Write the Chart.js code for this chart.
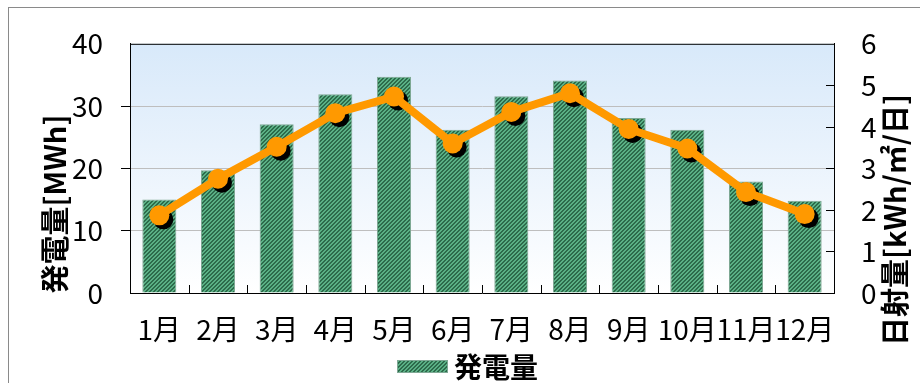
<!DOCTYPE html>
<html>
<head>
<meta charset="utf-8">
<script src="https://cdn.jsdelivr.net/npm/chart.js@4.4.1/dist/chart.umd.min.js"></script>
<style>
  body { margin: 0; background: #fff; }
  canvas { display: block; }
</style>
</head>
<body>
<canvas id="powerChart" width="920" height="383"></canvas>
<script>
// monthly generation (MWh) and daily irradiation (kWh/m2/day)
var months = ['1月', '2月', '3月', '4月', '5月', '6月', '7月', '8月', '9月', '10月', '11月', '12月'];
var generation = [15.0, 19.7, 27.1, 31.9, 34.7, 26.2, 31.6, 34.1, 28.1, 26.2, 17.9, 14.8];
var irradiation = [1.87, 2.75, 3.52, 4.33, 4.73, 3.6, 4.36, 4.81, 3.95, 3.48, 2.43, 1.9];
var leftTicks = [0, 10, 20, 30, 40];
var rightTicks = [0, 1, 2, 3, 4, 5, 6];

var jpFont = '"Noto Sans CJK JP", "Noto Sans", sans-serif';

// green diagonal hatch for the bars
function makeHatch() {
    var c = document.createElement('canvas');
    c.width = 4; c.height = 4;
    var g = c.getContext('2d');
    for (var x = 0; x < 4; x++) {
        for (var y = 0; y < 4; y++) {
            g.fillStyle = ((x + y) % 4 < 2) ? '#2D6B4B' : '#5AB085';
            g.fillRect(x, y, 1, 1);
        }
    }
    return g.createPattern(c, 'repeat');
}
var hatch = makeHatch();

// background gradient, frame and inward tick marks
var framePlugin = {
    id: 'frame',
    beforeDraw: function(chart) {
        var ctx = chart.ctx, a = chart.chartArea;
        ctx.save();
        ctx.fillStyle = '#fff';
        ctx.fillRect(0, 0, chart.width, chart.height);
        ctx.strokeStyle = '#8a8a8a';
        ctx.lineWidth = 1;
        ctx.strokeRect(8.5, 7.5, chart.width + 10, chart.height + 10);
        var grad = ctx.createLinearGradient(0, a.top, 0, a.bottom);
        grad.addColorStop(0, '#D8E9FA');
        grad.addColorStop(1, '#FFFFFF');
        ctx.fillStyle = grad;
        ctx.fillRect(a.left, a.top, a.right - a.left, a.bottom - a.top);
        ctx.restore();
    },
    afterDraw: function(chart) {
        var ctx = chart.ctx, a = chart.chartArea;
        ctx.save();
        ctx.strokeStyle = '#000';
        ctx.lineWidth = 1;
        ctx.beginPath();
        ctx.moveTo(a.left, a.top + 0.5);
        ctx.lineTo(a.right, a.top + 0.5);
        // category boundary ticks, pointing up
        var step = (a.right - a.left) / months.length;
        for (var i = 1; i < months.length; i++) {
            var x = Math.round(a.left + i * step) + 0.5;
            ctx.moveTo(x, a.bottom);
            ctx.lineTo(x, a.bottom - 8);
        }
        // right axis ticks, pointing in
        var y2 = chart.scales.y2;
        rightTicks.forEach(function(v) {
            if (v === 0 || v === 6) return;
            var y = Math.round(y2.getPixelForValue(v)) + 0.5;
            ctx.moveTo(a.right, y);
            ctx.lineTo(a.right - 8, y);
        });
        ctx.stroke();

        // axis titles, both reading bottom to top
        ctx.fillStyle = '#000';
        ctx.font = 'bold 29px ' + jpFont;
        ctx.textAlign = 'center';
        ctx.textBaseline = 'middle';
        ctx.save();
        ctx.translate(55, 204);
        ctx.rotate(-Math.PI / 2);
        ctx.fillText('発電量[MWh]', 0, 0);
        ctx.restore();
        ctx.save();
        ctx.translate(895, 220);
        ctx.rotate(-Math.PI / 2);
        ctx.fillText('日射量[kWh/㎡/日]', 0, 0);
        ctx.restore();

        // legend
        ctx.fillStyle = hatch;
        ctx.fillRect(397, 360, 51, 13);
        ctx.strokeStyle = '#7FA995';
        ctx.strokeRect(397.5, 360.5, 50, 12);
        ctx.fillStyle = '#000';
        ctx.font = 'bold 28px ' + jpFont;
        ctx.textAlign = 'left';
        ctx.fillText('発電量', 454, 367);
        ctx.restore();
    },
    // black shadow discs under the irradiation markers
    beforeDatasetDraw: function(chart, args) {
        if (args.index !== 1) return;
        var ctx = chart.ctx;
        ctx.save();
        ctx.fillStyle = '#000';
        args.meta.data.forEach(function(pt) {
            ctx.beginPath();
            ctx.arc(pt.x + 4, pt.y + 4, 10, 0, Math.PI * 2);
            ctx.fill();
        });
        ctx.restore();
    }
};

var ctx = document.getElementById('powerChart');
var myChart = new Chart(ctx, {
    type: 'bar',
    data: {
        labels: months,
        datasets: [{
            label: '発電量',
            data: generation,
            backgroundColor: hatch,
            borderColor: '#7FA995',
            borderWidth: 1,
            barPercentage: 0.58,
            categoryPercentage: 1,
            yAxisID: 'y',
            order: 1
        }, {
            label: '日射量',
            type: 'line',
            data: irradiation,
            borderColor: '#FF9900',
            backgroundColor: '#FF9900',
            borderWidth: 8,
            pointRadius: 10,
            pointBorderWidth: 0,
            pointBackgroundColor: '#FF9900',
            tension: 0,
            yAxisID: 'y2',
            order: 0
        }]
    },
    options: {
        responsive: false,
        animation: false,
        layout: { padding: { top: 40, left: 0, right: 0, bottom: 0 } },
        plugins: {
            legend: { display: false },
            tooltip: { enabled: false }
        },
        scales: {
            x: {
                grid: { display: false, drawTicks: false },
                border: { display: true, color: '#000', width: 1 },
                ticks: {
                    color: '#000',
                    font: { family: jpFont, size: 28 },
                    padding: 20,
                    autoSkip: false,
                    maxRotation: 0
                },
                afterFit: function(s) { s.height = 90; }
            },
            y: {
                position: 'left',
                min: 0,
                max: 40,
                grid: {
                    color: function(c) { return (c.tick && c.tick.value % 40 !== 0) ? '#BEBEBE' : 'rgba(0,0,0,0)'; },
                    tickColor: function(c) { return (c.tick && c.tick.value % 40 !== 0) ? '#000' : 'rgba(0,0,0,0)'; },
                    tickLength: 9,
                    drawTicks: true
                },
                border: { display: true, color: '#000', width: 1 },
                ticks: {
                    stepSize: 10,
                    color: '#000',
                    font: { family: jpFont, size: 28 },
                    padding: 18
                },
                afterBuildTicks: function(s) { s.ticks = leftTicks.map(function(v) { return { value: v }; }); },
                afterFit: function(s) { s.width = 130; }
            },
            y2: {
                position: 'right',
                min: 0,
                max: 6,
                grid: { display: false, drawTicks: false },
                border: { display: true, color: '#000', width: 1 },
                ticks: {
                    stepSize: 1,
                    color: '#000',
                    font: { family: jpFont, size: 28 },
                    padding: 27
                },
                afterBuildTicks: function(s) { s.ticks = rightTicks.map(function(v) { return { value: v }; }); },
                afterFit: function(s) { s.width = 86; }
            }
        }
    },
    plugins: [framePlugin]
});
</script>
</body>
</html>
